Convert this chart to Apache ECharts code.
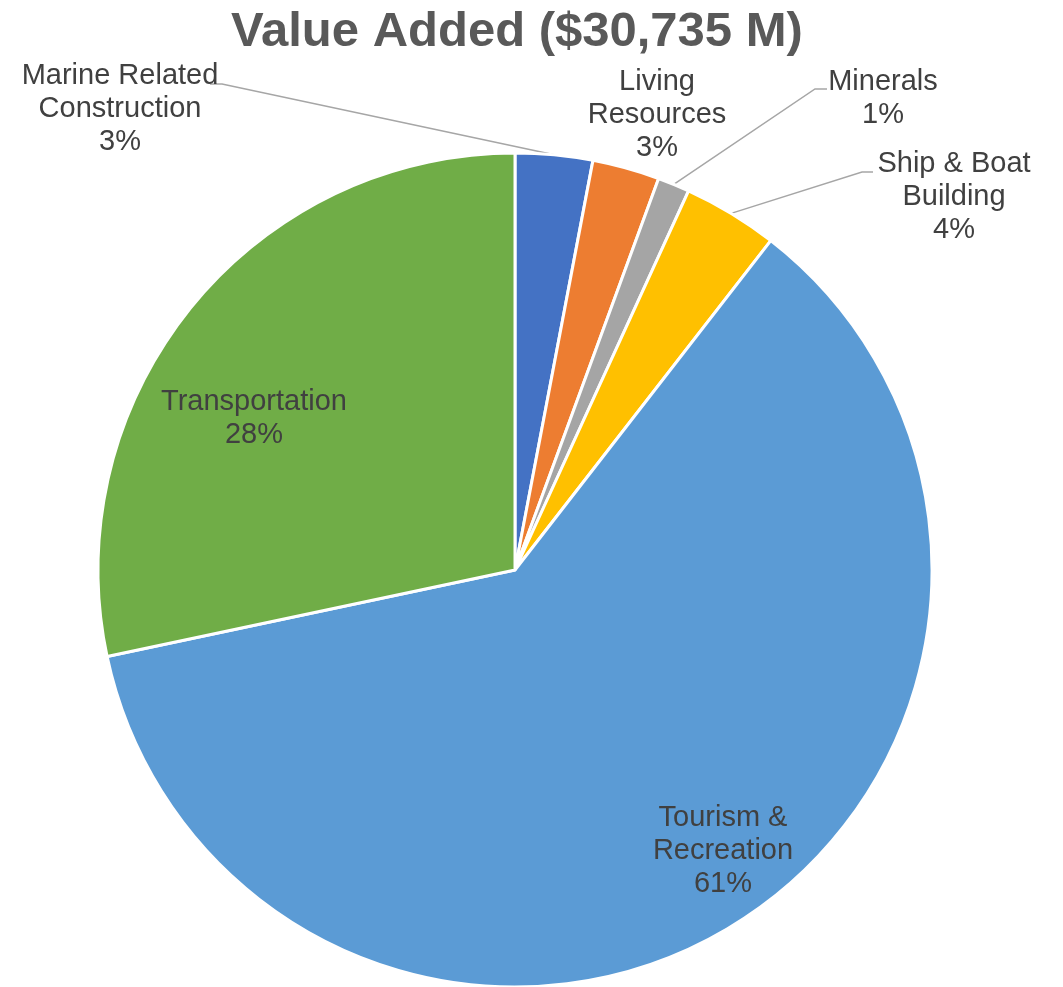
<!DOCTYPE html>
<html>
<head>
<meta charset="utf-8">
<title>Value Added</title>
<script src="https://cdn.jsdelivr.net/npm/echarts@6/dist/echarts.min.js"></script>
<style>
  html, body { margin: 0; padding: 0; background: #fff; }
  #chart_show { width: 1063px; height: 987px; }
</style>
</head>
<body>
<div id="chart_show"></div>
<script>
// 数据 ($M)
var categories = ['Marine Related\nConstruction', 'Living\nResources', 'Minerals', 'Ship & Boat\nBuilding', 'Tourism &\nRecreation', 'Transportation'];
var values = [920, 800, 380, 1130, 18800, 8705];
var colors = ['#4472C4', '#ED7D31', '#A5A5A5', '#FFC000', '#5B9BD5', '#70AD47'];
var titleText = 'Value Added ($30,735 M)';

// label placement (centre of each text block) and leader line elbows
var labelPos = [[120, 109], [657, 115], [883, 98], [954, 197], [723, 851], [254, 418]];
var lineEnds = [[[222, 84], [210, 84]], null, [[815, 89], [827, 89]], [[862, 172], [873, 172]], null, null];

var myChart = echarts.init(document.getElementById('chart_show'));

var data = categories.map(function (name, i) {
    var item = {
        name: name,
        value: values[i],
        itemStyle: { color: colors[i] }
    };
    if (!lineEnds[i]) {
        item.labelLine = { show: false };
    }
    return item;
});

myChart.setOption({
    animation: false,
    title: {
        text: titleText,
        left: 226,
        top: 3,
        textStyle: {
            fontFamily: 'Liberation Sans, Arial, sans-serif',
            fontSize: 49,
            fontWeight: 'bold',
            color: '#595959'
        }
    },
    series: [
        {
            type: 'pie',
            center: [515, 570],
            radius: 417,
            startAngle: 90,
            clockwise: true,
            itemStyle: {
                borderColor: '#fff',
                borderWidth: 3
            },
            label: {
                show: true,
                position: 'outside',
                overflow: 'none',
                width: 400,
                formatter: function (p) {
                    return p.name + '\n' + Math.round(p.percent) + '%';
                },
                fontFamily: 'Liberation Sans, Arial, sans-serif',
                fontSize: 29,
                lineHeight: 33,
                color: '#404040',
                align: 'center'
            },
            labelLine: {
                show: true,
                length: 20,
                length2: 10,
                lineStyle: { color: '#A6A6A6', width: 1.5 }
            },
            labelLayout: function (params) {
                var i = params.dataIndex;
                var out = {
                    x: labelPos[i][0],
                    y: labelPos[i][1],
                    align: 'center',
                    verticalAlign: 'middle'
                };
                if (lineEnds[i] && params.labelLinePoints) {
                    out.labelLinePoints = [params.labelLinePoints[0], lineEnds[i][0], lineEnds[i][1]];
                }
                return out;
            },
            data: data
        }
    ]
});
</script>
</body>
</html>
